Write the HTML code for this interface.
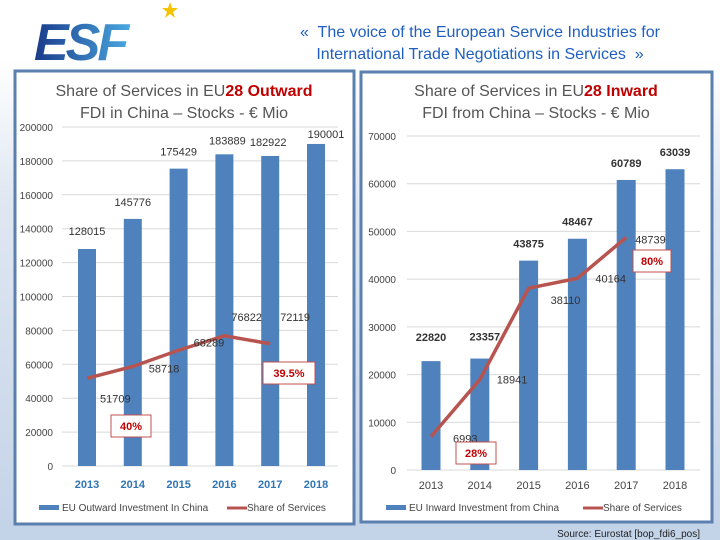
<!DOCTYPE html>
<html><head><meta charset="utf-8"><style>
html,body{margin:0;padding:0}
body{width:720px;height:540px;overflow:hidden;position:relative;font-family:"Liberation Sans",sans-serif;
background:linear-gradient(180deg,#fff 0,#fff 60px,#dfe7f2 200px,#c3d3e8 540px)}
#hdr{position:absolute;left:270px;top:22px;width:420px;text-align:center;color:#1f5fbf;font-size:16px;line-height:22px}
svg{position:absolute;left:0;top:0}
</style></head><body>
<div id="hdr">«&nbsp; The voice of the European Service Industries for<br>International Trade Negotiations in Services &nbsp;»</div>
<svg id="s" width="720" height="540">
<defs><linearGradient id="lg" x1="0" x2="1"><stop offset="0" stop-color="#1a3a8a"/><stop offset="1" stop-color="#4aa8e0"/></linearGradient></defs>
<g>
<text x="34" y="60" font-family="Liberation Sans" font-weight="bold" font-style="italic" font-size="52" fill="url(#lg)" letter-spacing="-3">ESF</text>
<polygon points="170,2 172,8 178,8 173,12 175,18 170,14 165,18 167,12 162,8 168,8" fill="#f5c400"/>
</g>
<rect x="15" y="71" width="339" height="453" fill="#fff" stroke="#5b7fae" stroke-width="3"/>
<rect x="361" y="72" width="351" height="450" fill="#fff" stroke="#5b7fae" stroke-width="3"/>
<text x="184" y="96" text-anchor="middle" font-family="Liberation Sans" font-size="16" fill="#555">Share of Services in EU<tspan fill="#c00000" font-weight="bold">28 Outward</tspan></text>
<text x="184" y="118" text-anchor="middle" font-family="Liberation Sans" font-size="16" fill="#555">FDI in China – Stocks - € Mio</text>
<text x="536" y="96" text-anchor="middle" font-family="Liberation Sans" font-size="16" fill="#555">Share of Services in EU<tspan fill="#c00000" font-weight="bold">28 Inward</tspan></text>
<text x="536" y="118" text-anchor="middle" font-family="Liberation Sans" font-size="16" fill="#555">FDI from China – Stocks - € Mio</text>
<text x="700" y="537" text-anchor="end" font-family="Liberation Sans" font-size="10" fill="#222">Source: Eurostat [bop_fdi6_pos]</text>
</svg>
<script>
const years=["2013","2014","2015","2016","2017","2018"];
const outBars=[128015,145776,175429,183889,182922,190001];
const outLine=[51709,58718,68289,76822,72119];
const outTicks=[0,20000,40000,60000,80000,100000,120000,140000,160000,180000,200000];
const inBars=[22820,23357,43875,48467,60789,63039];
const inLine=[6993,18941,38110,40164,48739];
const inTicks=[0,10000,20000,30000,40000,50000,60000,70000];
const NS="http://www.w3.org/2000/svg",svg=document.getElementById('s');
function mk(t,a,txt){const e=document.createElementNS(NS,t);for(const k in a)e.setAttribute(k,a[k]);if(txt!=null)e.textContent=txt;svg.appendChild(e);return e;}
function chart(o){
 const y=v=>o.y0-(v/o.max)*(o.y0-o.yTop);
 const x=i=>o.x0+i*o.step;
 o.ticks.forEach(t=>{
  const g=mk('line',{x1:o.gx1,x2:o.gx2,y1:y(t),y2:y(t),stroke:'#d9d9d9','stroke-width':1});
  
  
  const l=mk('text',{x:o.tx,y:y(t)+4,'text-anchor':'end','font-size':10,fill:'#444','font-family':'Liberation Sans'},String(t));
  
  
 });
 o.bars.forEach((v,i)=>{
  const r=mk('rect',{x:x(i)-o.bw/2,y:y(v),width:o.bw,height:o.y0-y(v),fill:'#4f81bd'});
  
  
  const t=mk('text',{x:x(i)+o.bl[i][0],y:y(v)+o.bl[i][1],'text-anchor':'middle','font-size':11,fill:'#333','font-weight':o.bvw,'font-family':'Liberation Sans'},String(v));
  
  
  const yl=mk('text',{x:x(i),y:o.yl,'text-anchor':'middle','font-size':11,fill:o.ycol,'font-weight':o.yw,'font-family':'Liberation Sans'},years[i]);
  
  
 });
 const p=mk('polyline',{points:o.line.map((v,i)=>x(i)+','+y(v)).join(' '),fill:'none',stroke:'#b85450','stroke-width':3.5});
 
 
 o.line.forEach((v,i)=>{
  const t=mk('text',{x:x(i)+o.ll[i][0],y:y(v)+o.ll[i][1],'font-size':11,fill:'#333','font-family':'Liberation Sans'},String(v));
  
  
 });
 o.boxes.forEach(b=>{
  const r=mk('rect',{x:b[0],y:b[1],width:b[2],height:22,fill:'#fff',stroke:'#c0504d','stroke-width':1});
  
  
  const t=mk('text',{x:b[0]+b[2]/2,y:b[1]+15,'text-anchor':'middle','font-size':11,fill:'#c00000','font-weight':'bold','font-family':'Liberation Sans'},b[3]);
  
  
 });
 const lr=mk('rect',{x:o.lgx,y:505,width:20,height:5,fill:'#4f81bd'});
 
 
 const lt=mk('text',{x:o.lgx+23,y:511,'font-size':10,fill:'#444','font-family':'Liberation Sans'},o.lg1);
 
 
 const ll=mk('line',{x1:o.lgx2,x2:o.lgx2+20,y1:508,y2:508,stroke:'#b85450','stroke-width':3});
 
 
 const lt2=mk('text',{x:o.lgx2+20,y:511,'font-size':10,fill:'#444','font-family':'Liberation Sans'},'Share of Services');
 
 
}
chart({y0:466,yTop:127,max:200000,x0:87,step:45.8,bw:18,gx1:62,gx2:338,tx:53,ticks:outTicks,bars:outBars,line:outLine,bvw:'normal',
 bl:[[0,-14],[0,-13],[0,-13],[3,-10],[-2,-10],[10,-6]],
 ll:[[13,24],[16,6],[15,-4],[7,-15],[10,-23]],
 boxes:[[111,415,40,'40%'],[263,362,52,'39.5%']],
 yl:488,ycol:'#2e75b6',yw:'bold',lgx:39,lgx2:227,lg1:'EU Outward Investment In China'});
chart({y0:470,yTop:136,max:70000,x0:431,step:48.8,bw:19,gx1:407,gx2:700,tx:396,ticks:inTicks,bars:inBars,line:inLine,bvw:'bold',
 bl:[[0,-20],[5,-18],[0,-13],[0,-13],[0,-13],[0,-13]],
 ll:[[22,6],[17,4],[22,16],[18,4],[9,6]],
 boxes:[[633,250,38,'80%'],[456,442,40,'28%']],
 yl:489,ycol:'#444',yw:'normal',lgx:386,lgx2:583,lg1:'EU Inward Investment from China'});
</script>
</body></html>
